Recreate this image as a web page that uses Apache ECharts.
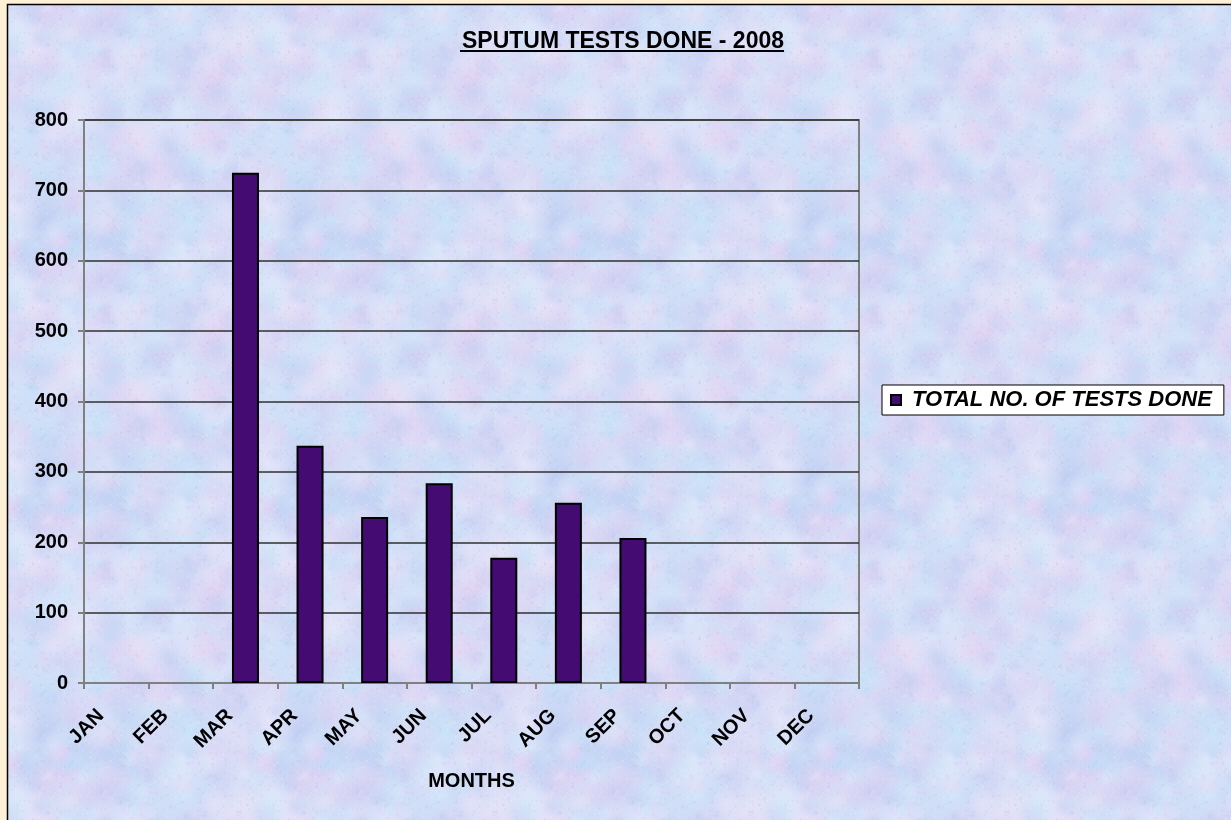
<!DOCTYPE html>
<html>
<head>
<meta charset="utf-8">
<script src="https://cdn.jsdelivr.net/npm/echarts@6/dist/echarts.min.js"></script>
<style>
  html, body { margin: 0; padding: 0; background: #fdf0d6; }
  #main { width: 1231px; height: 820px; }
</style>
</head>
<body>
<div id="main"></div>
<script>
let months = ['JAN', 'FEB', 'MAR', 'APR', 'MAY', 'JUN', 'JUL', 'AUG', 'SEP', 'OCT', 'NOV', 'DEC'];
let tests_done = [null, null, 725, 337, 236, 284, 178, 256, 206, null, null, null];
let series_name = 'TOTAL NO. OF TESTS DONE';
let title_text = 'SPUTUM TESTS DONE - 2008';
let x_name = 'MONTHS';

// soft paper texture for the background (decoration only)
function make_texture() {
    let size = 256;
    let c = document.createElement('canvas');
    c.width = size;
    c.height = size;
    let ctx = c.getContext('2d');
    ctx.fillStyle = '#d2dcf6';
    ctx.fillRect(0, 0, size, size);
    let seed = 4242;
    let rnd = function () {
        seed = (seed * 1103515245 + 12345) % 2147483648;
        return seed / 2147483648;
    };
    let tints = [[236, 208, 242], [196, 232, 250], [184, 200, 240], [232, 238, 252]];
    for (let i = 0; i < 500; i++) {
        let x = rnd() * size, y = rnd() * size, r = 6 + rnd() * 22;
        let t = tints[Math.floor(rnd() * tints.length)];
        for (let dx = -size; dx <= size; dx += size) {
            for (let dy = -size; dy <= size; dy += size) {
                let g = ctx.createRadialGradient(x + dx, y + dy, 0, x + dx, y + dy, r);
                g.addColorStop(0, 'rgba(' + t.join(',') + ',0.35)');
                g.addColorStop(1, 'rgba(' + t.join(',') + ',0)');
                ctx.fillStyle = g;
                ctx.fillRect(x + dx - r, y + dy - r, r * 2, r * 2);
            }
        }
    }
    for (let i = 0; i < 1800; i++) {
        let x = rnd() * size, y = rnd() * size;
        ctx.fillStyle = rnd() > 0.5 ? 'rgba(160,175,215,0.12)' : 'rgba(245,242,255,0.18)';
        ctx.fillRect(x, y, 2, 2);
    }
    return c;
}

let chart = echarts.init(document.getElementById('main'));

let option = {
    backgroundColor: '#fdf0d6',
    animation: false,
    graphic: [
        {
            type: 'rect',
            z: -10,
            silent: true,
            shape: {x: 7.5, y: 4.5, width: 1230, height: 820},
            style: {fill: {image: make_texture(), repeat: 'repeat'}, stroke: '#000', lineWidth: 1.5}
        },
        {
            type: 'line',
            shape: {x1: 460, y1: 51, x2: 784, y2: 51},
            style: {stroke: '#000', lineWidth: 2}
        }
    ],
    title: {
        text: title_text,
        left: 618,
        top: 25,
        textAlign: 'center',
        textStyle: {
            fontFamily: 'Liberation Sans, Arial',
            fontSize: 23,
            fontWeight: 'bold',
            color: '#000'
        }
    },
    grid: {
        left: 84,
        right: 372,
        top: 120,
        bottom: 137,
        show: true,
        borderColor: '#808080',
        borderWidth: 2,
        backgroundColor: 'transparent'
    },
    legend: {
        left: 882,
        top: 385,
        orient: 'vertical',
        backgroundColor: '#fff',
        borderColor: '#000',
        borderWidth: 1,
        padding: [4, 12, 4, 8],
        itemWidth: 10,
        itemHeight: 10,
        itemGap: 0,
        icon: 'rect',
        data: [series_name],
        textStyle: {
            fontFamily: 'Liberation Sans, Arial',
            fontSize: 22,
            fontStyle: 'italic',
            fontWeight: 'bold',
            color: '#000',
            padding: [0, 0, 0, 6]
        }
    },
    xAxis: {
        type: 'category',
        data: months,
        boundaryGap: true,
        name: x_name,
        nameLocation: 'middle',
        nameGap: 88,
        nameTextStyle: {
            fontFamily: 'Liberation Sans, Arial',
            fontSize: 20,
            fontWeight: 'bold',
            color: '#000'
        },
        axisLine: {lineStyle: {color: '#808080', width: 2}},
        axisTick: {show: true, length: 6, lineStyle: {color: '#808080', width: 2}},
        axisLabel: {
            rotate: 45,
            margin: 14,
            interval: 0,
            padding: [0, 22, 0, 0],
            fontFamily: 'Liberation Sans, Arial',
            fontSize: 20,
            fontWeight: 'bold',
            color: '#000'
        }
    },
    yAxis: {
        type: 'value',
        min: 0,
        max: 800,
        interval: 100,
        axisLine: {show: true, lineStyle: {color: '#808080', width: 2}},
        axisTick: {show: true, length: 6, lineStyle: {color: '#808080', width: 2}},
        axisLabel: {
            margin: 16,
            fontFamily: 'Liberation Sans, Arial',
            fontSize: 20,
            fontWeight: 'bold',
            color: '#000'
        },
        splitLine: {lineStyle: {color: '#303030', width: 1.5}}
    },
    series: [
        {
            name: series_name,
            type: 'bar',
            data: tests_done,
            barWidth: 27,
            itemStyle: {
                color: '#440c72',
                borderColor: '#000',
                borderWidth: 2
            }
        }
    ]
};

chart.setOption(option);
</script>
</body>
</html>
